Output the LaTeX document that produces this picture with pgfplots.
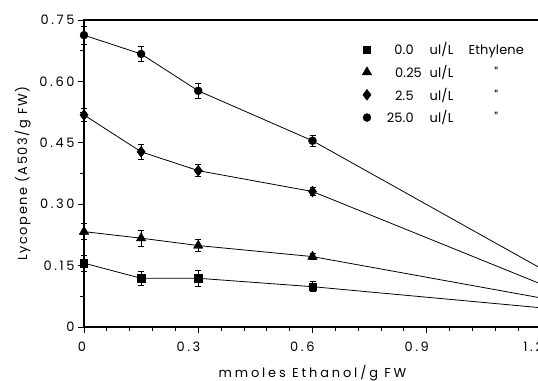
\documentclass[border=0pt]{standalone}
\usepackage{fontspec}
\setmainfont{Poppins}
\newfontfamily\ticksfont{Poppins}[LetterSpace=20]
\newfontfamily\xlabfont{Poppins}[LetterSpace=22]
\newfontfamily\ylabfont{Poppins}[LetterSpace=12]
\newfontfamily\legfont{Poppins}[LetterSpace=1]
\usepackage{pgfplots}
\pgfplotsset{compat=1.18}
\begin{document}
\begin{tikzpicture}
\begin{axis}[
  scale only axis, width=457bp, height=307bp,
  xmin=0, xmax=1.2, ymin=0, ymax=0.75,
  xtick={0,0.3,0.6,0.9,1.2}, xticklabels={0,0.3,0.6,0.9,1.2},
  ytick={0,0.15,0.30,0.45,0.60,0.75}, yticklabels={0,0.15,0.30,0.45,0.60,0.75},
  minor x tick num=4, minor y tick num=1,
  tick align=outside, tick pos=left,
  major tick length=6bp, minor tick length=4bp,
  axis line style={line width=1.1bp},
  every tick/.style={line width=0.9bp, black},
  /pgf/number format/assume math mode=true,
  tick label style={font=\ticksfont\fontsize{13}{15}\selectfont},
  x tick label style={anchor=north east, xshift=5.5bp, yshift=-5bp},
  xlabel={mmoles Ethanol/g FW}, ylabel={Lycopene (A503/g FW)},
  xlabel style={font=\xlabfont\fontsize{13}{15}\selectfont, at={(axis description cs:0.5,-0.163)}, anchor=base},
  ylabel style={font=\ylabfont\fontsize{13}{15}\selectfont, at={(axis description cs:-0.1247,0.5)}, anchor=base},
  clip=false,
  legend style={at={(axis cs:0.73,0.70)}, anchor=north west, draw=none, fill=none,
     inner sep=0pt, row sep=5bp, font=\legfont\fontsize{13}{15}\selectfont},
  legend cell align=left,
  error bars/error bar style={line width=0.9bp},
  error bars/error mark options={rotate=90, mark size=3bp, line width=0.9bp},
]
% regression / connecting lines
\addplot[forget plot, black, line width=0.8bp] coordinates {(0,0.156) (0.15,0.119) (0.3,0.119) (0.6,0.0985) (1.2,0.047)};
\addplot[forget plot, black, line width=0.8bp] coordinates {(0,0.233) (0.15,0.217) (0.3,0.199) (0.6,0.172) (1.2,0.071)};
\addplot[forget plot, black, line width=0.8bp] coordinates {(0,0.518) (0.15,0.428) (0.3,0.382) (0.6,0.331) (1.2,0.105)};
\addplot[forget plot, black, line width=0.8bp] coordinates {(0,0.713) (0.15,0.667) (0.3,0.577) (0.6,0.455) (1.2,0.143)};
% markers with error bars
\addplot[only marks, black, mark=square*, mark size=3.6bp,
  error bars/.cd, y dir=both, y explicit] coordinates {
  (0,0.156) +- (0,0.020) (0.15,0.119) +- (0,0.0175) (0.3,0.119) +- (0,0.020) (0.6,0.0985) +- (0,0.012)};
\addlegendentry{\makebox[40bp][r]{0.0}\hspace{16bp}\makebox[38bp][l]{ul/L}\makebox[57bp][c]{Ethylene}}
\addplot[only marks, black, mark=triangle*, mark size=5.5bp,
  error bars/.cd, y dir=both, y explicit] coordinates {
  (0,0.233) +- (0,0.0195) (0.15,0.217) +- (0,0.019) (0.3,0.199) +- (0,0.0155) (0.6,0.172) +- (0,0.008)};
\addlegendentry{\makebox[40bp][r]{0.2\rlap{5}}\hspace{16bp}\makebox[38bp][l]{ul/L}\makebox[57bp][c]{\symbol{34}}}
\addplot[only marks, black, mark=diamond*, mark size=5.5bp,
  error bars/.cd, y dir=both, y explicit] coordinates {
  (0,0.518) +- (0,0.015) (0.15,0.428) +- (0,0.019) (0.3,0.382) +- (0,0.014) (0.6,0.331) +- (0,0.010)};
\addlegendentry{\makebox[40bp][r]{2.5}\hspace{16bp}\makebox[38bp][l]{ul/L}\makebox[57bp][c]{\symbol{34}}}
\addplot[only marks, black, mark=*, mark size=4bp,
  error bars/.cd, y dir=both, y explicit] coordinates {
  (0,0.713) +- (0,0.022) (0.15,0.667) +- (0,0.019) (0.3,0.577) +- (0,0.0175) (0.6,0.455) +- (0,0.014)};
\addlegendentry{\makebox[40bp][r]{25.0}\hspace{16bp}\makebox[38bp][l]{ul/L}\makebox[57bp][c]{\symbol{34}}}
\end{axis}
\pgfresetboundingbox
\path[use as bounding box] (current axis.south west) ++(-84bp,-54bp) rectangle ++(538bp,381bp);
\end{tikzpicture}
\end{document}
